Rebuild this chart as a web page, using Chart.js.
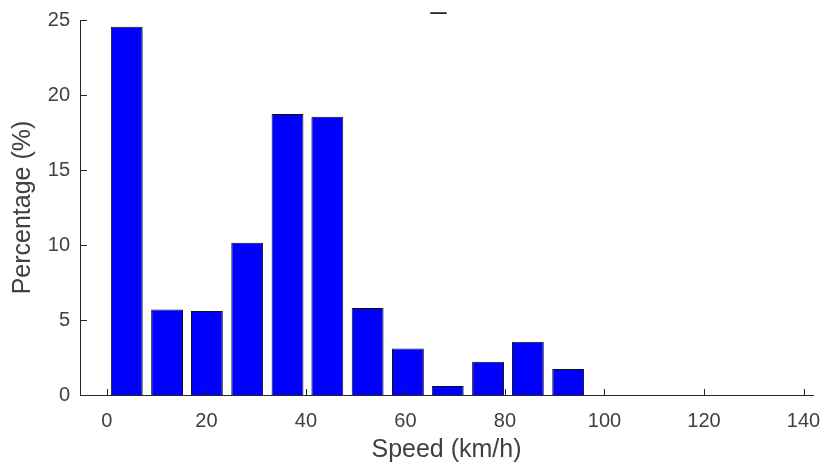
<!DOCTYPE html>
<html><head><meta charset="utf-8">
<script src="https://cdn.jsdelivr.net/npm/chart.js@4/dist/chart.umd.min.js"></script>
<style>html,body{margin:0;padding:0;background:#fff}#wrap{width:821px;height:465px}</style>
</head><body><div id="wrap"><canvas id="c"></canvas></div>
<script>
const speedCenters = [4.0, 12.1, 20.1, 28.2, 36.3, 44.3, 52.4, 60.5, 68.5, 76.6, 84.6, 92.7];
const percentages = [24.55, 5.7, 5.6, 10.15, 18.73, 18.55, 5.8, 3.1, 0.6, 2.22, 3.55, 1.73];
const xTicks = [0, 20, 40, 60, 80, 100, 120, 140];
const yTicks = [0, 5, 10, 15, 20, 25];
const titleText = '_';
const xLabel = 'Speed (km/h)';
const yLabel = 'Percentage (%)';

const FONT = "'Liberation Sans', Arial, Helvetica, sans-serif";
const TXT = '#404040';
const AX = '#262626';

const innerTicks = {
  id: 'innerTicks',
  afterDatasetsDraw(chart) {
    const ctx = chart.ctx, a = chart.chartArea;
    const xs = chart.scales.x, ys = chart.scales.y;
    ctx.save();
    ctx.strokeStyle = AX; ctx.lineWidth = 1;
    ctx.beginPath();
    xTicks.forEach(v => { const p = Math.round(xs.getPixelForValue(v)) + 0.5; ctx.moveTo(p, a.bottom); ctx.lineTo(p, a.bottom - 6); });
    yTicks.forEach(v => { const p = Math.round(ys.getPixelForValue(v)) + 0.5; ctx.moveTo(a.left, p); ctx.lineTo(a.left + 7, p); });
    ctx.stroke();
    ctx.fillStyle = AX;
    ctx.font = '28px ' + FONT;
    ctx.textAlign = 'center'; ctx.textBaseline = 'alphabetic';
    ctx.fillText(titleText, (a.left + a.right) / 2 - 8, 8);
    ctx.restore();
  }
};

new Chart(document.getElementById('c'), {
  type: 'bar',
  data: {
    datasets: [{
      data: speedCenters.map((x, i) => ({ x: x, y: percentages[i] })),
      backgroundColor: '#0000ff',
      borderColor: '#111111',
      borderWidth: 1,
      borderSkipped: 'bottom',
      barPercentage: 0.8,
      categoryPercentage: 1.0
    }]
  },
  options: {
    responsive: true,
    maintainAspectRatio: false,
    animation: false,
    layout: { padding: { top: 20, right: 8, left: 0, bottom: 0 } },
    plugins: { legend: { display: false }, title: { display: false }, tooltip: { enabled: false } },
    scales: {
      x: {
        type: 'linear', offset: false, min: -5.4, max: 141.9,
        afterBuildTicks: s => { s.ticks = xTicks.map(v => ({ value: v })); },
        afterFit: s => { s.height = 70; s.paddingLeft = 0; s.paddingRight = 0; },
        grid: { display: false, drawTicks: false },
        border: { display: true, color: AX, width: 1 },
        ticks: { color: TXT, font: { family: FONT, size: 20 }, padding: 14, maxRotation: 0, autoSkip: false },
        title: { display: true, text: xLabel, color: TXT, font: { family: FONT, size: 25 }, padding: { top: 4, bottom: 0 } }
      },
      y: {
        min: 0, max: 25,
        afterBuildTicks: s => { s.ticks = yTicks.map(v => ({ value: v })); },
        afterFit: s => { s.width = 80; s.paddingTop = 0; s.paddingBottom = 0; },
        grid: { display: false, drawTicks: false },
        border: { display: true, color: AX, width: 1 },
        ticks: { color: TXT, font: { family: FONT, size: 20 }, padding: 10 },
        title: { display: true, text: yLabel, color: TXT, font: { family: FONT, size: 25 }, padding: { top: 8, bottom: 4 } }
      }
    }
  },
  plugins: [innerTicks]
});
</script></body></html>
